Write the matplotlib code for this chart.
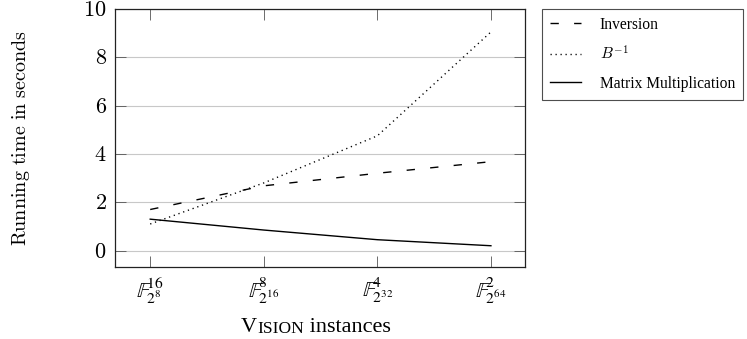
import matplotlib
matplotlib.use("Agg")
import matplotlib.pyplot as plt

plt.rcParams['mathtext.fontset'] = 'cm'
plt.rcParams['font.family'] = 'Liberation Serif'

# data
instances = [r'$\mathbb{F}_{2^8}^{16}$', r'$\mathbb{F}_{2^{16}}^{8}$',
             r'$\mathbb{F}_{2^{32}}^{4}$', r'$\mathbb{F}_{2^{64}}^{2}$']
inversion = [1.7, 2.68, 3.2, 3.68]
b_inverse = [1.1, 2.8, 4.75, 9.05]
matmul = [1.3, 0.85, 0.45, 0.2]
yticks = [0, 2, 4, 6, 8, 10]

x = range(len(instances))

fig = plt.figure(figsize=(7.47, 3.39), dpi=100)
ax = fig.add_axes([115/747, 1-267/339, 410/747, 258/339])

ax.plot(x, inversion, color='black', lw=1.0, dashes=(6, 11), label='Inversion')
ax.plot(x, b_inverse, color='black', lw=1.0, dashes=(0.9, 2.7), label=r'$B^{-1}$')
ax.plot(x, matmul, color='black', lw=1.0, label='Matrix Multiplication')

ax.set_xlim(-0.31, 3.3)
ax.set_ylim(-0.68, 10)
ax.set_xticks(list(x))
ax.set_xticklabels(instances, fontsize=16)
for t in ax.get_xticklabels():
    t.set_math_fontfamily('stix')
ax.set_yticks(yticks)
ax.set_yticklabels(['$%d$' % v for v in yticks], fontsize=16)
ax.yaxis.grid(True, color='#c8c8c8', lw=0.8)
ax.set_axisbelow(True)
ax.tick_params(direction='in', top=True, right=True, length=8, width=0.6,
               color='#555555')
ax.tick_params(axis='y', pad=6)
ax.tick_params(axis='x', pad=6)
for s in ax.spines.values():
    s.set_linewidth(0.9)
    s.set_color('#222222')

fig.text(21/747, 1-138/339, r'$\mathrm{Running\ time\ in\ seconds}$',
         fontsize=14.5, rotation=90, ha='center', va='center')

# small caps x label: VISION instances
t1 = fig.text(241/747, 1-332/339, 'V', fontsize=16, va='baseline')
t2 = ax.annotate('ISION', xy=(1, 0), xycoords=t1, fontsize=12.5, va='bottom')
t3 = ax.annotate(' instances', xy=(1, 0), xycoords=t2, fontsize=16, va='bottom')

leg = ax.legend(loc='upper left', bbox_to_anchor=(542/747, 1-9/339),
                bbox_transform=fig.transFigure, fontsize=11.2, frameon=True,
                fancybox=False, edgecolor='#222222', handlelength=2.0,
                handletextpad=1.2, borderaxespad=0, borderpad=0.5,
                labelspacing=0.8)
leg.get_frame().set_linewidth(0.8)

fig.savefig('out.png', dpi=100)
